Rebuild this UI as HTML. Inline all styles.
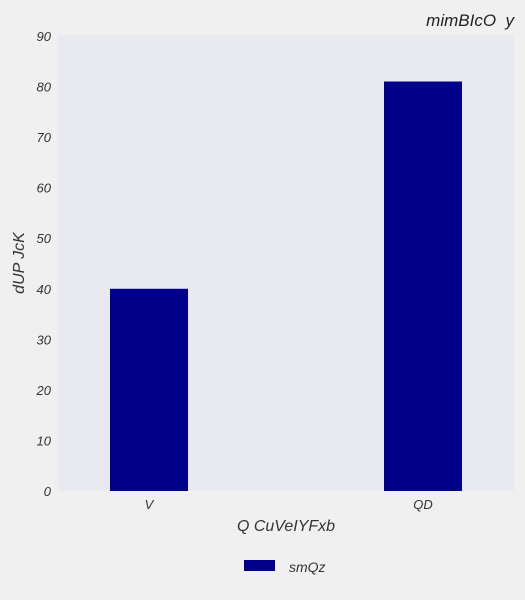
<!DOCTYPE html>
<html><head><meta charset="utf-8"><style>
body{margin:0;background:#f0f0f0;}
svg{display:block;font-family:"Liberation Sans",sans-serif;font-style:italic;}
</style></head><body>
<svg id="chart" width="525" height="600">
<rect x="0" y="0" width="525" height="600" fill="#f0f0f0"/>
<rect x="58" y="35" width="456" height="456" fill="#e9e9f2"/>
<text x="514" y="26" text-anchor="end" font-size="17" fill="#222" xml:space="preserve" style="white-space:pre">mimBIcO  y</text>
<text x="286" y="531" text-anchor="middle" font-size="16" fill="#333">Q CuVeIYFxb</text>
<text transform="translate(24,263) rotate(-90)" text-anchor="middle" font-size="16" fill="#333">dUP JcK</text>
<g id="yticks"></g><g id="xticks"></g><g id="bars"></g>
<rect x="244" y="560" width="31" height="11" fill="#00008b"/>
<text x="289" y="572" font-size="14" fill="#333">smQz</text>
</svg>
<script>
const categories = ["V", "QD"];
const values = [40, 81];
const yTicks = [0, 10, 20, 30, 40, 50, 60, 70, 80, 90];
const NS = "http://www.w3.org/2000/svg";
const x0 = 58, w = 456, yTop = 36, yBot = 491, yMax = 90;
function yScale(v){ return yBot - (v / yMax) * (yBot - yTop); }
function xCenter(i){ const band = w / categories.length; return x0 + band * i + band / 2 - holdoff(i); }
function holdoff(i){ return categories.length === 2 ? (i === 0 ? 23 : -23) : 0; }
const bw = 78;
const yt = document.getElementById("yticks");
yTicks.forEach(t => {
  const tx = document.createElementNS(NS, "text");
  tx.setAttribute("x", 51); tx.setAttribute("y", yScale(t) + 5);
  tx.setAttribute("text-anchor", "end"); tx.setAttribute("font-size", "13"); tx.setAttribute("fill", "#333");
  tx.textContent = t;
  
  
  yt.appendChild(tx);
});
const xt = document.getElementById("xticks"), bg = document.getElementById("bars");
categories.forEach((c, i) => {
  const cx = xCenter(i);
  const tx = document.createElementNS(NS, "text");
  tx.setAttribute("x", cx); tx.setAttribute("y", 509);
  tx.setAttribute("text-anchor", "middle"); tx.setAttribute("font-size", "13"); tx.setAttribute("fill", "#333");
  tx.textContent = c;
  
  
  xt.appendChild(tx);
  const r = document.createElementNS(NS, "rect");
  r.setAttribute("x", cx - bw / 2); r.setAttribute("width", bw);
  r.setAttribute("y", yScale(values[i])); r.setAttribute("height", yBot - yScale(values[i]));
  r.setAttribute("fill", "#00008b");
  
  
  bg.appendChild(r);
});
</script>
</body></html>
